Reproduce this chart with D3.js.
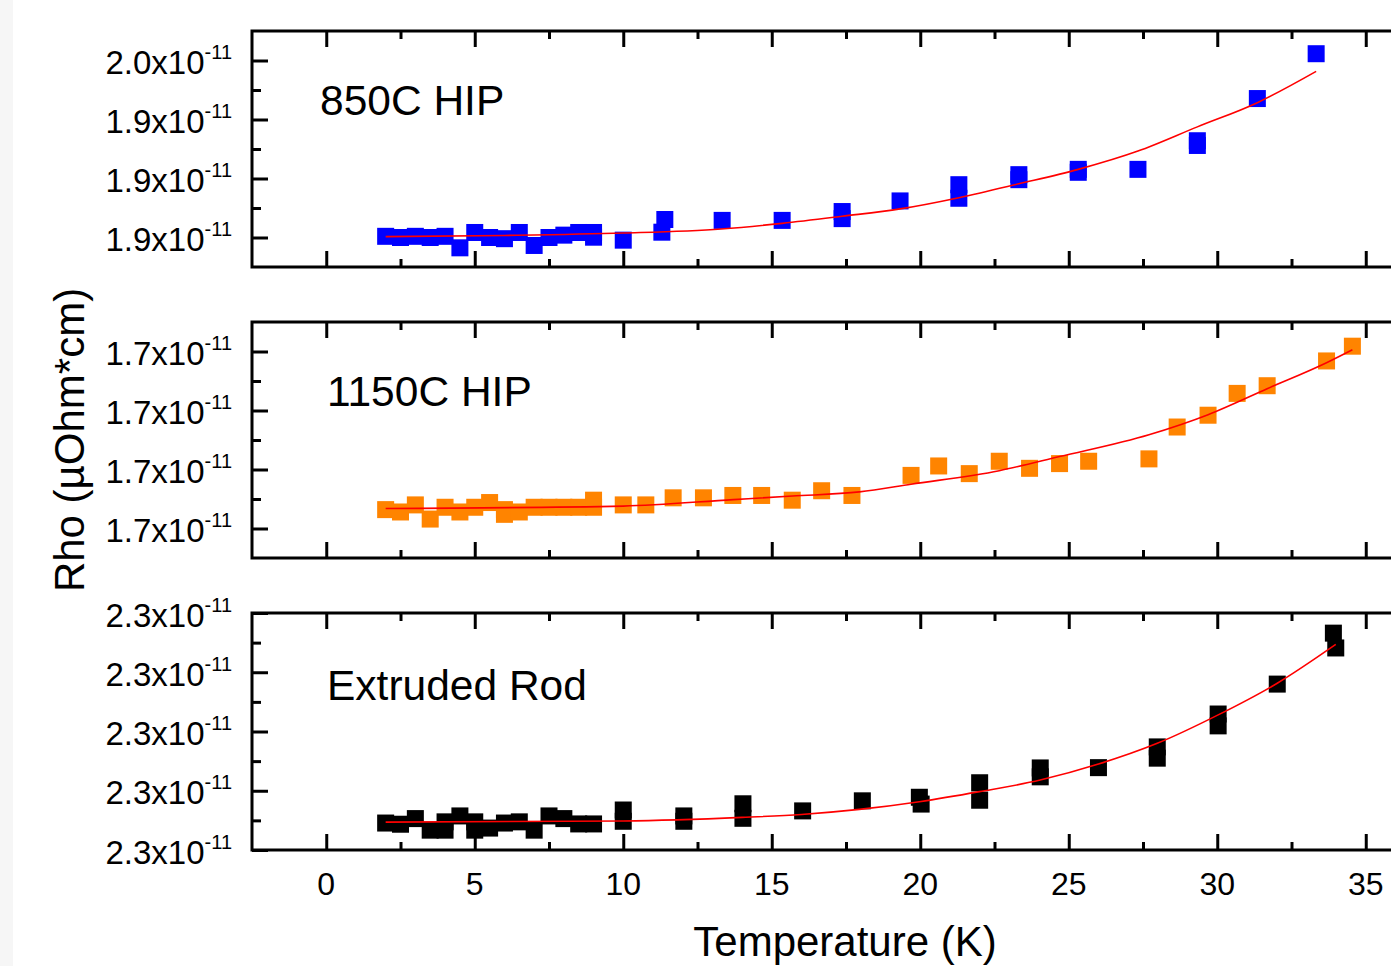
<!DOCTYPE html>
<html>
<head>
<meta charset="utf-8">
<script src="https://cdn.jsdelivr.net/npm/d3@7"></script>
<style>
  body { margin: 0; background: #fff; }
  text { font-family: "Liberation Sans", Arial, sans-serif; fill: #000; }
</style>
</head>
<body>
<div id="chart"></div>
<script>
// Temperature (K) and Rho values (x1e-11)
var hip850T = [2,2.5,3,3.5,4,4.5,5,5.5,6,6.5,7,7.5,8,8.5,9,9,10,11.3,11.4,13.33,15.35,17.37,17.37,19.32,21.3,21.3,23.32,23.32,25.32,25.32,27.33,29.33,29.33,31.35,33.33];
var hip850Rho = [1.9004,1.9000,1.9004,1.9000,1.9004,1.8965,1.9017,1.9000,1.8996,1.9017,1.8973,1.9000,1.9008,1.9017,1.9017,1.9001,1.8991,1.9018,1.9061,1.9058,1.9058,1.9088,1.9064,1.9124,1.9179,1.9133,1.9213,1.9196,1.9231,1.9221,1.9231,1.9328,1.9312,1.9471,1.9623];
var hip850FitT = [2,6,10,13.3,15.35,17.37,19.32,21.3,23.32,25.32,27.33,29.33,31.35,33.33];
var hip850FitRho = [1.9003,1.9007,1.9015,1.9029,1.9048,1.9072,1.9097,1.9135,1.9182,1.9231,1.9293,1.9375,1.9457,1.9563];

var hip1150T = [2,2.5,3,3.5,4,4.5,5,5.5,6,6,6.5,7,7.5,8,8.5,9,9,10,10.76,11.68,12.7,13.69,14.66,15.69,16.68,17.7,19.69,20.62,21.65,22.66,23.68,24.69,25.67,27.7,28.65,29.69,30.67,31.68,33.68,34.55];
var hip1150Rho = [1.7032,1.7028,1.7040,1.7016,1.7036,1.7028,1.7036,1.7044,1.7032,1.7024,1.7028,1.7036,1.7036,1.7036,1.7036,1.7048,1.7036,1.7040,1.7040,1.7052,1.7052,1.7056,1.7056,1.7048,1.7064,1.7056,1.7090,1.7106,1.7093,1.7114,1.7102,1.7110,1.7114,1.7118,1.7172,1.7192,1.7229,1.7242,1.7284,1.7309];
var hip1150FitT = [2,10,13.7,15.7,17.95,19.69,22.66,24.69,27.7,29.69,31.68,33.68,34.55];
var hip1150FitRho = [1.7034,1.7038,1.7049,1.7055,1.7062,1.7075,1.7098,1.7122,1.7159,1.7193,1.7237,1.7281,1.7303];

var rodT = [2,2.5,3,3.5,4,4,4.5,5,5,5.5,6,6.5,7,7.5,8,8.5,9,10,10,12.04,12.04,14.03,14.03,16.04,18.05,19.97,20.03,22,22,24.04,24.04,26,27.98,27.98,30.03,30.03,32.02,33.91,33.99];
var rodRho = [2.30091,2.30087,2.30106,2.30067,2.30095,2.30067,2.30115,2.30095,2.30067,2.30074,2.30091,2.30095,2.30067,2.30115,2.30106,2.30088,2.30088,2.30135,2.30097,2.30115,2.30097,2.30156,2.30107,2.30132,2.30166,2.30178,2.30155,2.30227,2.30168,2.30277,2.30247,2.30278,2.30348,2.30310,2.30459,2.30419,2.30560,2.30732,2.30682];
var rodFitT = [2,10,14,16,17.95,19.97,22,24.04,26,27.98,30.03,32.02,33.99];
var rodFitRho = [2.30094,2.30098,2.30110,2.30120,2.30137,2.30163,2.30197,2.30236,2.30290,2.30360,2.30456,2.30563,2.30694];

// tick values
var xMajor = [0,5,10,15,20,25,30,35];
var xMinor = [2.5,7.5,12.5,17.5,22.5,27.5,32.5];
var hip850Ticks = [1.90,1.92,1.94,1.96];
var hip850Minor = [1.91,1.93,1.95];
var hip1150Ticks = [1.70,1.71,1.72,1.73];
var hip1150Minor = [1.705,1.715,1.725];
var rodTicks = [2.300,2.302,2.304,2.306,2.308];
var rodMinor = [2.301,2.303,2.305,2.307];

var panels = [
  {name: "850C HIP", t: hip850T, rho: hip850Rho, fitT: hip850FitT, fitRho: hip850FitRho,
   domain: [1.890, 1.970], top: 31, bottom: 267, ticks: hip850Ticks, minor: hip850Minor,
   color: "#0000ff", labelX: 320, labelY: 115},
  {name: "1150C HIP", t: hip1150T, rho: hip1150Rho, fitT: hip1150FitT, fitRho: hip1150FitRho,
   domain: [1.695, 1.735], top: 322, bottom: 558, ticks: hip1150Ticks, minor: hip1150Minor,
   color: "#ff8400", labelX: 327, labelY: 406},
  {name: "Extruded Rod", t: rodT, rho: rodRho, fitT: rodFitT, fitRho: rodFitRho,
   domain: [2.300, 2.308], top: 613, bottom: 850, ticks: rodTicks, minor: rodMinor,
   color: "#000000", labelX: 327, labelY: 700}
];

var width = 1391, height = 966;
var left = 252, right = 1391;

var svg = d3.select("#chart").append("svg")
  .attr("width", width)
  .attr("height", height);

svg.append("rect").attr("width", width).attr("height", height).attr("fill", "#fff");
svg.append("rect").attr("width", 13).attr("height", height).attr("fill", "#f6f6f6");

var x = d3.scaleLinear().domain([-2.5, 35.85]).range([left, right]);
var fmt = d3.format(".1f");

panels.forEach(function (p) {
  var y = d3.scaleLinear().domain(p.domain).range([p.bottom, p.top]);
  var g = svg.append("g");

  var line = d3.line()
    .x(function (d) { return x(d[0]); })
    .y(function (d) { return y(d[1]); })
    .curve(d3.curveMonotoneX);
  var fit = p.fitT.map(function (t, i) { return [t, p.fitRho[i]]; });

  // points
  var pts = p.t.map(function (t, i) { return [t, p.rho[i]]; });
  g.selectAll("rect.pt").data(pts).enter().append("rect")
    .attr("class", "pt")
    .attr("x", function (d) { return x(d[0]) - 8.5; })
    .attr("y", function (d) { return y(d[1]) - 8.5; })
    .attr("width", 17)
    .attr("height", 17)
    .attr("fill", p.color);

  // fit line
  g.append("path").datum(fit)
    .attr("d", line)
    .attr("fill", "none")
    .attr("stroke", "#ff0000")
    .attr("stroke-width", 1.6);

  // y axis, ticks inward
  var yAxis = d3.axisLeft(y).tickValues(p.ticks).tickSize(-16).tickPadding(20);
  var ya = g.append("g").attr("transform", "translate(" + left + ",0)").call(yAxis);
  ya.select(".domain").remove();
  ya.selectAll(".tick line").attr("stroke", "#000").attr("stroke-width", 3);
  ya.selectAll(".tick text")
    .attr("font-size", 33)
    .attr("dy", 13)
    .attr("font-family", "Liberation Sans, Arial, sans-serif")
    .text(null)
    .each(function (d) {
      var t = d3.select(this);
      t.append("tspan").text(fmt(d) + "x10");
      t.append("tspan").attr("dy", -15).attr("font-size", 20).text("-11");
    });
  var yMinor = d3.axisLeft(y).tickValues(p.minor).tickSize(-9).tickFormat("");
  var ym = g.append("g").attr("transform", "translate(" + left + ",0)").call(yMinor);
  ym.select(".domain").remove();
  ym.selectAll(".tick line").attr("stroke", "#000").attr("stroke-width", 3);

  // x ticks on bottom (pointing up) and top (pointing down)
  [[p.bottom, d3.axisBottom], [p.top, d3.axisTop]].forEach(function (a) {
    var maj = g.append("g").attr("transform", "translate(0," + a[0] + ")")
      .call(a[1](x).tickValues(xMajor).tickSize(-16).tickFormat(""));
    maj.select(".domain").remove();
    maj.selectAll(".tick line").attr("stroke", "#000").attr("stroke-width", 3);
    var mn = g.append("g").attr("transform", "translate(0," + a[0] + ")")
      .call(a[1](x).tickValues(xMinor).tickSize(-8).tickFormat(""));
    mn.select(".domain").remove();
    mn.selectAll(".tick line").attr("stroke", "#000").attr("stroke-width", 3);
  });

  // frame (right side runs off the picture)
  g.append("path")
    .attr("d", "M" + (right + 5) + "," + p.top + "H" + left + "V" + p.bottom + "H" + (right + 5))
    .attr("fill", "none")
    .attr("stroke", "#000")
    .attr("stroke-width", 3);

  g.append("text")
    .attr("x", p.labelX)
    .attr("y", p.labelY)
    .attr("font-size", 42.5)
    .text(p.name);
});

// x tick labels under the last panel
svg.append("g").selectAll("text").data(xMajor).enter().append("text")
  .attr("x", function (d) { return x(d); })
  .attr("y", 895)
  .attr("text-anchor", "middle")
  .attr("font-size", 32)
  .text(function (d) { return d; });

svg.append("text")
  .attr("x", 845)
  .attr("y", 956)
  .attr("text-anchor", "middle")
  .attr("font-size", 42)
  .text("Temperature (K)");

svg.append("text")
  .attr("transform", "translate(84,440) rotate(-90)")
  .attr("text-anchor", "middle")
  .attr("font-size", 42)
  .text("Rho (\u00b5Ohm*cm)");
</script>
</body>
</html>
